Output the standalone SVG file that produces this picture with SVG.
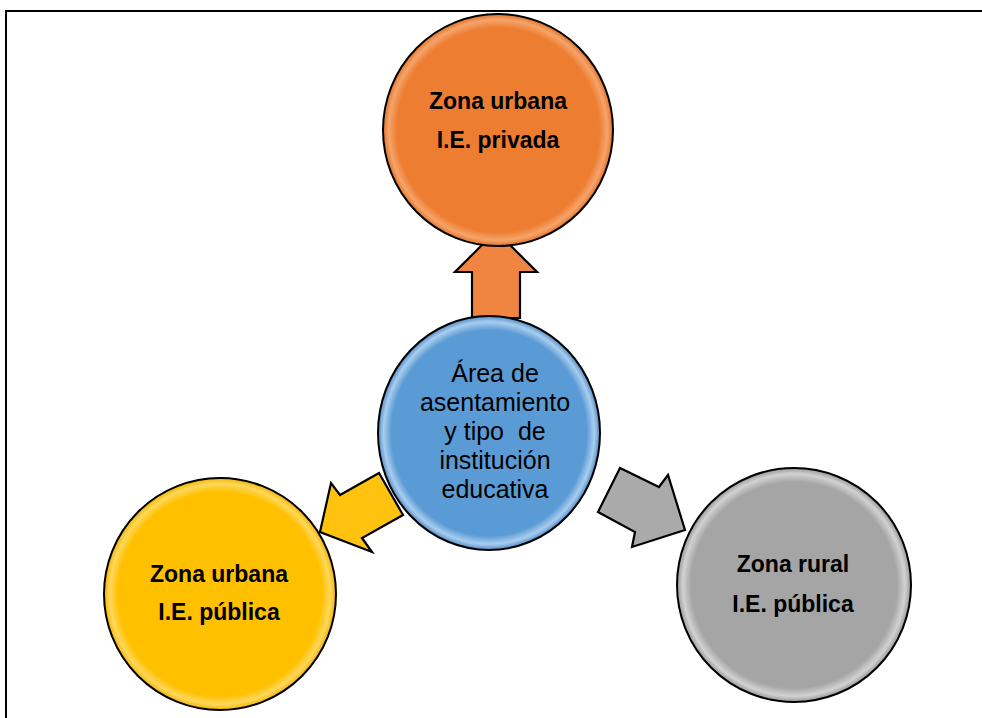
<svg xmlns="http://www.w3.org/2000/svg" width="982" height="718" viewBox="0 0 982 718">
  <defs>
    <radialGradient id="gOrange" cx="50%" cy="50%" r="50%">
      <stop offset="0.88" stop-color="#ED7D31"/>
      <stop offset="0.95" stop-color="#F6A46B"/>
      <stop offset="1" stop-color="#E07328"/>
    </radialGradient>
    <radialGradient id="gBlue" cx="50%" cy="50%" r="50%">
      <stop offset="0.88" stop-color="#5B9BD5"/>
      <stop offset="0.95" stop-color="#A9CDEE"/>
      <stop offset="1" stop-color="#4F8CC6"/>
    </radialGradient>
    <radialGradient id="gYellow" cx="50%" cy="50%" r="50%">
      <stop offset="0.88" stop-color="#FFC000"/>
      <stop offset="0.95" stop-color="#FFD85C"/>
      <stop offset="1" stop-color="#F2B400"/>
    </radialGradient>
    <radialGradient id="gGray" cx="50%" cy="50%" r="50%">
      <stop offset="0.88" stop-color="#A5A5A5"/>
      <stop offset="0.95" stop-color="#D2D2D2"/>
      <stop offset="1" stop-color="#979797"/>
    </radialGradient>
  </defs>
  <style>
    .circle { stroke: #000; stroke-width: 2; }
    .arrow { stroke: #000; stroke-width: 2.2; stroke-linejoin: miter; }
    .lbl { font-family: "Liberation Sans", Arial, sans-serif; font-weight: bold; font-size: 23px; fill: #000; text-anchor: middle; }
    .ctr { font-family: "Liberation Sans", Arial, sans-serif; font-size: 25px; fill: #000; text-anchor: middle; white-space: pre; }
    .frame { stroke: #000; stroke-width: 2; fill: none; }
  </style>
  <rect width="982" height="718" fill="#fff"/>
  <path class="frame" d="M6,718 V11 H982"/>

  <g id="connectors">
    <polygon class="arrow" fill="#EF8540" points="496,231 537,272 520,272 520,318 472,318 472,272 455,272"/>
    <polygon class="arrow" fill="#FFC20E" points="320,532 331,483 340,495 379,473 403,515 362,538 372,552"/>
    <polygon class="arrow" fill="#AAAAAA" points="685,530 632,547 635,532 598,512 620,468 659,487 668,475"/>
  </g>

  <g id="node-center">
    <ellipse class="circle" fill="url(#gBlue)" cx="489" cy="433" rx="111" ry="117"/>
    <text class="ctr" x="495" y="382">Área de</text>
    <text class="ctr" x="495" y="411">asentamiento</text>
    <text class="ctr" x="495" y="440" xml:space="preserve">y tipo  de</text>
    <text class="ctr" x="495" y="469">institución</text>
    <text class="ctr" x="495" y="498">educativa</text>
  </g>

  <g id="node-privada">
    <ellipse class="circle" fill="url(#gOrange)" cx="498" cy="130" rx="115" ry="116"/>
    <text class="lbl" x="498" y="109">Zona urbana</text>
    <text class="lbl" x="498" y="148">I.E. privada</text>
  </g>

  <g id="node-publica-urbana">
    <ellipse class="circle" fill="url(#gYellow)" cx="220" cy="594" rx="116" ry="116"/>
    <text class="lbl" x="219" y="582">Zona urbana</text>
    <text class="lbl" x="219" y="620">I.E. pública</text>
  </g>

  <g id="node-publica-rural">
    <ellipse class="circle" fill="url(#gGray)" cx="794" cy="585" rx="117" ry="117"/>
    <text class="lbl" x="793" y="572">Zona rural</text>
    <text class="lbl" x="793" y="612">I.E. pública</text>
  </g>
</svg>
